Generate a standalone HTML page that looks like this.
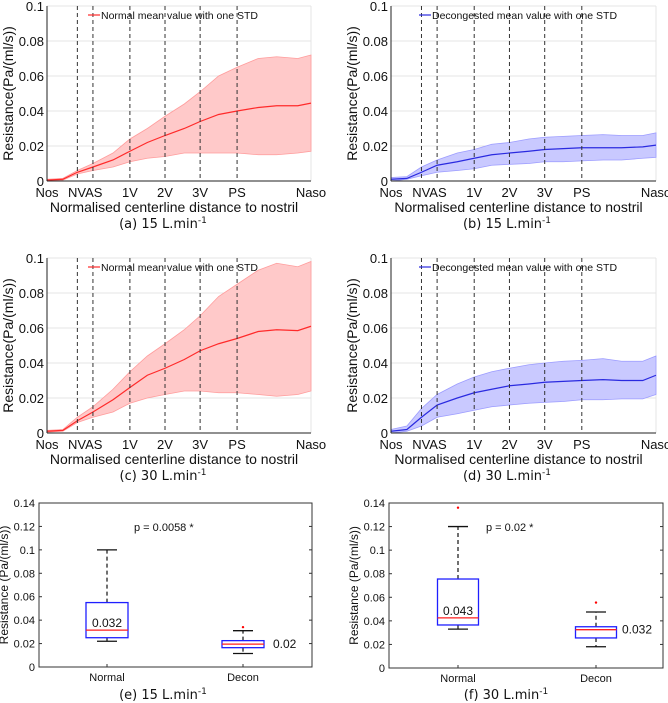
<!DOCTYPE html>
<html><head><meta charset="utf-8"><style>
html,body{margin:0;padding:0;background:#fff;width:668px;height:703px;overflow:hidden}
svg{display:block}
text{font-family:"Liberation Sans",sans-serif;fill:#111}
.cap{font-family:"DejaVu Sans",sans-serif;font-size:13px}
</style></head><body>
<svg id="fig" width="668" height="703" viewBox="0 0 668 703" xmlns="http://www.w3.org/2000/svg"></svg>
<script>
// shared normalised positions along centerline
const xs = [0,0.06,0.115,0.174,0.25,0.314,0.38,0.447,0.52,0.58,0.65,0.72,0.8,0.87,0.95,1];
const landmarks = [0.115,0.174,0.314,0.447,0.58,0.72];
const tickNames = ["Nos","NVAS","1V","2V","3V","PS","Naso"];
const tickPos = [0,0.145,0.314,0.447,0.58,0.72,1];
const yTicks = [0,0.02,0.04,0.06,0.08,0.1];
const yTickLabels = ["0","0.02","0.04","0.06","0.08","0.1"];
// (a) normal 15
const aMean = [.0005,.001,.005,.008,.012,.017,.022,.026,.030,.034,.038,.040,.042,.043,.043,.0445];
const aUp   = [.001,.0015,.006,.010,.016,.024,.030,.037,.044,.051,.060,.065,.070,.071,.070,.072];
const aLow  = [0,.0005,.004,.006,.008,.011,.013,.014,.016,.016,.016,.016,.015,.015,.016,.017];
// (b) decon 15
const bMean = [.001,.0015,.005,.009,.011,.013,.015,.016,.017,.018,.0185,.019,.019,.019,.0195,.0205];
const bUp   = [.002,.0025,.008,.012,.016,.018,.021,.022,.024,.025,.0255,.026,.0265,.026,.026,.0275];
const bLow  = [0,.001,.003,.005,.006,.007,.009,.0095,.010,.011,.011,.0115,.012,.012,.013,.0135];
// (c) normal 30
const cMean = [.001,.0015,.007,.012,.019,.026,.033,.037,.042,.047,.051,.054,.058,.059,.0585,.061];
const cUp   = [.0015,.002,.009,.015,.025,.035,.044,.051,.059,.067,.078,.085,.093,.097,.095,.098];
const cLow  = [.0005,.001,.006,.009,.012,.017,.020,.022,.024,.024,.023,.023,.022,.021,.022,.024];
// (d) decon 30
const dMean = [.001,.002,.009,.016,.020,.023,.025,.027,.028,.029,.0295,.030,.0305,.030,.030,.033];
const dUp   = [.002,.004,.014,.022,.028,.032,.035,.037,.039,.040,.041,.0415,.0425,.041,.041,.044];
const dLow  = [0,.001,.004,.009,.011,.013,.015,.016,.017,.0175,.018,.019,.019,.0195,.0195,.022];
// box plots
const boxCats = ["Normal","Decon"];
const boxTicks = [0,0.02,0.04,0.06,0.08,0.1,0.12,0.14];
const boxTickLabels = ["0","0.02","0.04","0.06","0.08","0.1","0.12","0.14"];
const e_q1=[0.025,0.0165], e_q3=[0.055,0.0225], e_med=[0.0315,0.0195], e_lo=[0.022,0.0115], e_hi=[0.1,0.031], e_out=[null,0.034];
const e_lbl=["0.032","0.02"];
const f_q1=[0.0365,0.0255], f_q3=[0.0755,0.035], f_med=[0.0425,0.0325], f_lo=[0.033,0.018], f_hi=[0.12,0.0475], f_out=[0.136,0.0555];
const f_lbl=["0.043","0.032"];

const NS="http://www.w3.org/2000/svg";
const svg=document.getElementById('fig');
function mk(tag,attrs,parent,txt){const e=document.createElementNS(NS,tag);for(const k in attrs)e.setAttribute(k,attrs[k]);if(txt!==undefined)e.textContent=txt;(parent||svg).appendChild(e);return e;}

function caption(cx,y,letter,flow,name){
  const t=mk('text',{x:cx,y:y,'text-anchor':'middle',class:'cap'});
  
  
  t.textContent='('+letter+') '+flow+' L.min';
  mk('tspan',{dy:-5,'font-size':9},t,'-1');
}

function linePanel(o){
  const g=mk('g',{});
  
  
  const X=v=>o.x0+v*(o.x1-o.x0), Y=v=>o.y1-v/0.1*(o.y1-o.y0);
  yTicks.forEach((v,i)=>{
    if(v>0) mk('line',{x1:o.x0,x2:o.x1,y1:Y(v),y2:Y(v),stroke:'#e4e4e4','stroke-width':1},g);
    const t=mk('text',{x:o.x0-3,y:Y(v)+5,'text-anchor':'end','font-size':13},g,yTickLabels[i]);
    
    
  });
  mk('line',{x1:o.x1,x2:o.x1,y1:o.y0,y2:o.y1,stroke:'#e4e4e4'},g);
  // band
  let d='M'+xs.map((x,i)=>X(x)+','+Y(o.up[i])).join('L');
  for(let i=xs.length-1;i>=0;i--) d+='L'+X(xs[i])+','+Y(o.low[i]);
  const band=mk('path',{d:d+'Z',fill:o.fill,stroke:o.edge,'stroke-width':0.8},g);
  
  
  const ml=mk('polyline',{points:xs.map((x,i)=>X(x)+','+Y(o.mean[i])).join(' '),fill:'none',stroke:o.line,'stroke-width':1.2},g);
  
  
  landmarks.forEach(v=>{
    const l=mk('line',{x1:X(v),x2:X(v),y1:o.y0,y2:o.y1,stroke:'#333','stroke-width':1,'stroke-dasharray':'4,3'},g);
    
    
  });
  mk('line',{x1:o.x0,x2:o.x0,y1:o.y0,y2:o.y1,stroke:'#222'},g);
  mk('line',{x1:o.x0,x2:o.x1,y1:o.y1,y2:o.y1,stroke:'#222'},g);
  tickNames.forEach((n,i)=>{
    const t=mk('text',{x:X(tickPos[i]),y:o.y1+16,'text-anchor':'middle','font-size':13},g,n);
    
    
  });
  const xt=mk('text',{x:(o.x0+o.x1)/2-5,y:o.y1+31,'text-anchor':'middle','font-size':14},g,'Normalised centerline distance to nostril');
  
  
  const cy=(o.y0+o.y1)/2;
  const yt=mk('text',{x:o.x0-34,y:cy,'text-anchor':'middle','font-size':14,transform:'rotate(-90 '+(o.x0-34)+' '+cy+')'},g,'Resistance(Pa/(ml/s))');
  
  
  const lg=mk('g',{},g);
  
  
  mk('line',{x1:o.lx,x2:o.lx+12,y1:o.y0+9,y2:o.y0+9,stroke:o.line,'stroke-width':1.2},lg);
  mk('text',{x:o.lx+13,y:o.y0+13,'font-size':10.5},lg,o.legend);
}

linePanel({name:'panel-a',x0:47,x1:311,y0:6,y1:181,mean:aMean,up:aUp,low:aLow,fill:'#ffc9c9',edge:'#ff9c9c',line:'#ff2a2a',lx:88,legend:'Normal mean value with one STD'});
linePanel({name:'panel-b',x0:391,x1:656,y0:6,y1:181,mean:bMean,up:bUp,low:bLow,fill:'#c9c9ff',edge:'#9c9cff',line:'#2a2ae0',lx:419,legend:'Decongested mean value with one STD'});
linePanel({name:'panel-c',x0:47,x1:311,y0:258,y1:433,mean:cMean,up:cUp,low:cLow,fill:'#ffc9c9',edge:'#ff9c9c',line:'#ff2a2a',lx:88,legend:'Normal mean value with one STD'});
linePanel({name:'panel-d',x0:391,x1:656,y0:258,y1:433,mean:dMean,up:dUp,low:dLow,fill:'#c9c9ff',edge:'#9c9cff',line:'#2a2ae0',lx:419,legend:'Decongested mean value with one STD'});
caption(163,228,'a','15','caption-a');
caption(507,228,'b','15','caption-b');
caption(163,480,'c','30','caption-c');
caption(507,480,'d','30','caption-d');

function boxPanel(o){
  const g=mk('g',{});
  
  
  const Y=v=>o.y1-v/0.14*(o.y1-o.y0);
  const cx=i=>o.c0+i*o.dc;
  mk('rect',{x:o.x0,y:o.y0,width:o.x1-o.x0,height:o.y1-o.y0,fill:'none',stroke:'#333'},g);
  boxTicks.forEach((v,i)=>{
    mk('line',{x1:o.x0,x2:o.x0+3,y1:Y(v),y2:Y(v),stroke:'#333'},g);
    mk('line',{x1:o.x1-3,x2:o.x1,y1:Y(v),y2:Y(v),stroke:'#333'},g);
    const t=mk('text',{x:o.x0-4,y:Y(v)+4,'text-anchor':'end','font-size':11},g,boxTickLabels[i]);
    
    
  });
  const cy=(o.y0+o.y1)/2;
  const yt=mk('text',{x:o.x0-31,y:cy,'text-anchor':'middle','font-size':12,transform:'rotate(-90 '+(o.x0-31)+' '+cy+')'},g,'Resistance (Pa/(ml/s))');
  
  
  boxCats.forEach((c,i)=>{
    const x=cx(i), hw=o.bw/2;
    const bg=mk('g',{},g);
    
    
    mk('line',{x1:x,x2:x,y1:o.y1,y2:o.y1-3,stroke:'#333'},bg);
    mk('line',{x1:x,x2:x,y1:Y(o.q3[i]),y2:Y(o.hi[i]),stroke:'#111','stroke-dasharray':'4,3','stroke-width':1.2},bg);
    mk('line',{x1:x,x2:x,y1:Y(o.q1[i]),y2:Y(o.lo[i]),stroke:'#111','stroke-dasharray':'4,3','stroke-width':1.2},bg);
    mk('line',{x1:x-10,x2:x+10,y1:Y(o.hi[i]),y2:Y(o.hi[i]),stroke:'#111','stroke-width':1.3},bg);
    mk('line',{x1:x-10,x2:x+10,y1:Y(o.lo[i]),y2:Y(o.lo[i]),stroke:'#111','stroke-width':1.3},bg);
    mk('rect',{x:x-hw,y:Y(o.q3[i]),width:o.bw,height:Y(o.q1[i])-Y(o.q3[i]),fill:'#fff',stroke:'#1f1fff','stroke-width':1.3},bg);
    mk('line',{x1:x-hw,x2:x+hw,y1:Y(o.med[i]),y2:Y(o.med[i]),stroke:'#ff1f1f','stroke-width':1.3},bg);
    if(o.out[i]!==null) mk('circle',{cx:x,cy:Y(o.out[i]),r:1.2,fill:'#f00'},bg);
    const lt=mk('text',{x:o.lblX[i],y:Y(o.med[i])+o.lblDy[i],'font-size':12},bg,o.lbl[i]);
    
    
    const ct=mk('text',{x:x,y:o.y1+14,'text-anchor':'middle','font-size':11},g,c);
    
    
  });
  const p=mk('text',{x:o.px,y:o.y0+28,'font-size':11},g,o.ptext);
  
  
}
boxPanel({name:'panel-e',x0:39,x1:312,y0:503,y1:667,c0:107,dc:136,bw:42,q1:e_q1,q3:e_q3,med:e_med,lo:e_lo,hi:e_hi,out:e_out,lbl:e_lbl,lblX:[92,273],lblDy:[-3,4],px:134,ptext:'p = 0.0058   *'});
boxPanel({name:'panel-f',x0:389,x1:663,y0:503,y1:668,c0:458,dc:138,bw:41,q1:f_q1,q3:f_q3,med:f_med,lo:f_lo,hi:f_hi,out:f_out,lbl:f_lbl,lblX:[443,622],lblDy:[-3,4],px:486,ptext:'p = 0.02 *'});
caption(163,699,'e','15','caption-e');
caption(506,699,'f','30','caption-f');
</script>
</body></html>
